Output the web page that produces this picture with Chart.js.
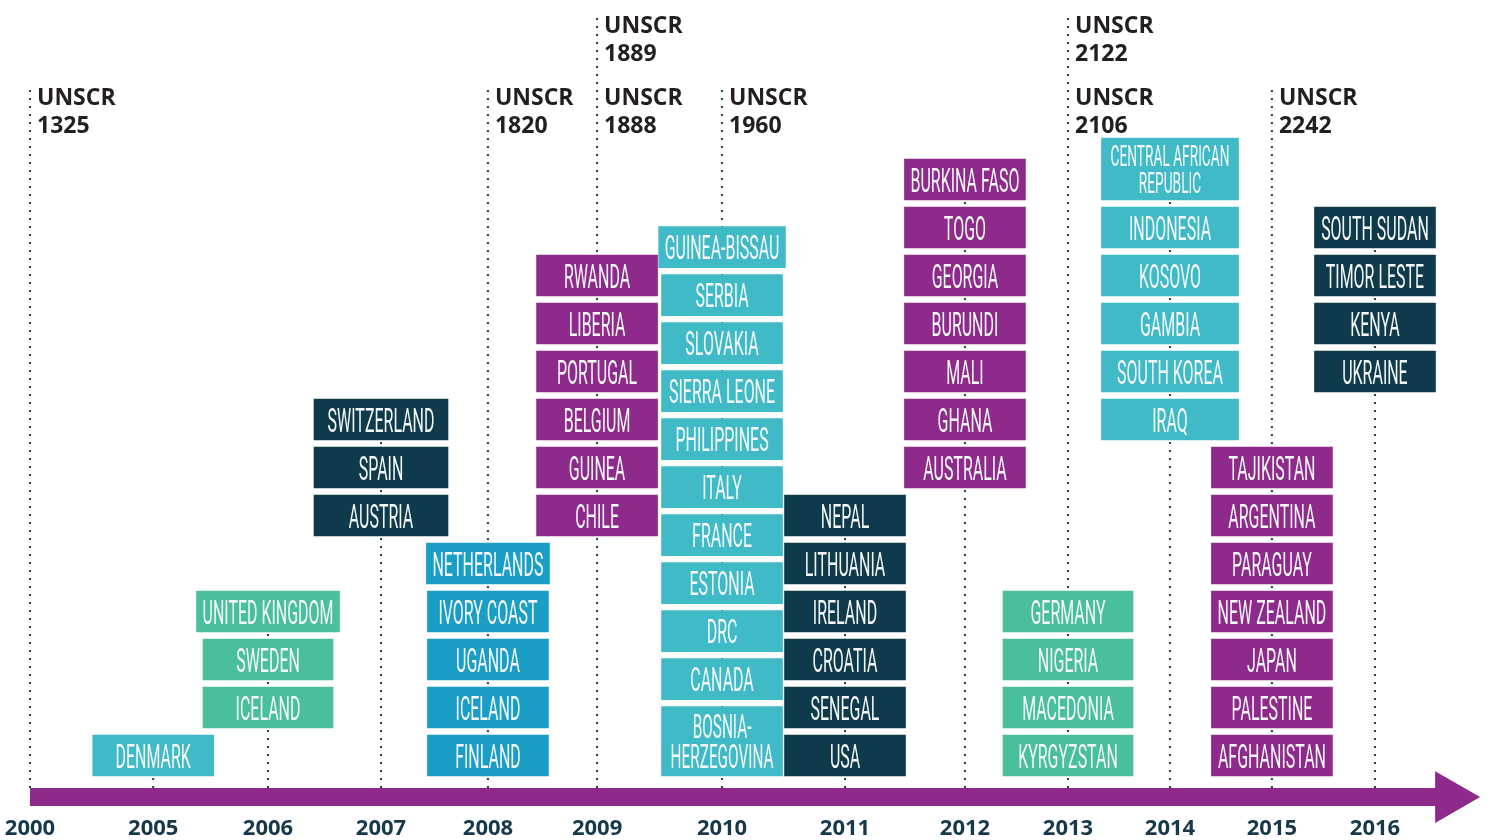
<!DOCTYPE html>
<html>
<head>
<meta charset="utf-8">
<script src="https://cdn.jsdelivr.net/npm/chart.js@4.4.1/dist/chart.umd.min.js"></script>
<style>
  html, body { margin: 0; background: #fff; }
  #wrap { width: 1491px; height: 840px; }
</style>
</head>
<body>
<div id="wrap"><canvas id="c"></canvas></div>
<script>
// ---- data ----
const years = ['2000', '2005', '2006', '2007', '2008', '2009', '2010', '2011', '2012', '2013', '2014', '2015', '2016'];

// countries joining per year, listed top -> bottom as they appear
const members = [
  [],
  ['DENMARK'],
  ['UNITED KINGDOM', 'SWEDEN', 'ICELAND'],
  ['SWITZERLAND', 'SPAIN', 'AUSTRIA'],
  ['NETHERLANDS', 'IVORY COAST', 'UGANDA', 'ICELAND', 'FINLAND'],
  ['RWANDA', 'LIBERIA', 'PORTUGAL', 'BELGIUM', 'GUINEA', 'CHILE'],
  ['GUINEA-BISSAU', 'SERBIA', 'SLOVAKIA', 'SIERRA LEONE', 'PHILIPPINES', 'ITALY', 'FRANCE', 'ESTONIA', 'DRC', 'CANADA', 'BOSNIA-\nHERZEGOVINA'],
  ['NEPAL', 'LITHUANIA', 'IRELAND', 'CROATIA', 'SENEGAL', 'USA'],
  ['BURKINA FASO', 'TOGO', 'GEORGIA', 'BURUNDI', 'MALI', 'GHANA', 'AUSTRALIA'],
  ['GERMANY', 'NIGERIA', 'MACEDONIA', 'KYRGYZSTAN'],
  ['CENTRAL AFRICAN\nREPUBLIC', 'INDONESIA', 'KOSOVO', 'GAMBIA', 'SOUTH KOREA', 'IRAQ'],
  ['TAJIKISTAN', 'ARGENTINA', 'PARAGUAY', 'NEW ZEALAND', 'JAPAN', 'PALESTINE', 'AFGHANISTAN'],
  ['SOUTH SUDAN', 'TIMOR LESTE', 'KENYA', 'UKRAINE']
];
// row (counted from the axis) where each year's stack starts
const startRow = [0, 0, 1, 5, 0, 5, 0, 0, 6, 0, 7, 0, 8];

const resolutions    = ['1325', '1820', '1888', '1889', '1960', '2106', '2122', '2242'];
const resolutionYear = ['2000', '2008', '2009', '2009', '2010', '2013', '2013', '2015'];
const resolutionTier = [0, 0, 0, 1, 0, 0, 1, 0];

// ---- layout / style ----
const YEAR_AT = [0, 1.1, 2.125, 3.134, 4.089, 5.063, 6.179, 7.277, 8.348, 9.268, 10.179, 11.089, 12.009];
const C = { cyan: '#40BAC6', green: '#49BF9B', navy: '#0F3A4B', blue: '#1B9EC6', purple: '#8D2A8B' };
const COL_COLOR = [C.cyan, C.cyan, C.green, C.navy, C.blue, C.purple, C.cyan, C.navy, C.purple, C.green, C.cyan, C.purple, C.navy];
const COL_MIN_W = [121, 121, 130, 134, 121, 121, 121, 121, 121, 130, 137, 121, 121];
const ROW_PX = 48, GAP_PX = 7, CAP = 24, FONT_PX = 34;
const BOX_FAMILY = 'Roboto';
const LABEL_ROW = 14.12, AXIS_ROW = -0.25, ARROW_ROW = -0.44;

const mctx = document.createElement('canvas').getContext('2d');
mctx.font = `400 ${FONT_PX}px ${BOX_FAMILY}`;
const SX = 111 / mctx.measureText('NETHERLANDS').width;
const textW = s => Math.max(...s.split('\n').map(l => mctx.measureText(l).width)) * SX;

const boxSets = [];
const colTop = [];
members.forEach((list, ci) => {
  let cur = startRow[ci];
  list.slice().reverse().forEach(name => {
    const n = name.split('\n').length;
    const tw = textW(name);
    let w, fs;
    if (n > 1) { w = COL_MIN_W[ci]; fs = Math.min(1, (w - 18) / tw); }
    else { w = Math.max(COL_MIN_W[ci], tw + 12); fs = 1; }
    const hpx = (17 + CAP * (1 + 1.3 * (n - 1))) * fs;
    const lo = cur, hi = cur + hpx / ROW_PX;
    cur = hi + GAP_PX / ROW_PX;
    boxSets.push({
      type: 'bar', label: name, fontScale: fs,
      data: [{ x: YEAR_AT[ci], y: [lo, hi] }],
      backgroundColor: COL_COLOR[ci], barThickness: w, grouped: false, order: 2
    });
  });
  colTop[ci] = cur - GAP_PX / ROW_PX;
});

const lineSets = years.map((yr, ci) => {
  const tiers = resolutionTier.filter((t, i) => resolutionYear[i] === yr);
  const top = tiers.length ? LABEL_ROW + 1.5 * Math.max(...tiers) + 0.2 : colTop[ci];
  return {
    type: 'line', data: [{ x: YEAR_AT[ci], y: AXIS_ROW }, { x: YEAR_AT[ci], y: top }],
    borderColor: '#1E4051', borderWidth: 2, borderDash: [2, 6], pointRadius: 0, order: 3
  };
});

const arrow = {
  type: 'line', data: [{ x: 0, y: ARROW_ROW }, { x: 12.68, y: ARROW_ROW }],
  borderColor: C.purple, borderWidth: 18, borderCapStyle: 'butt',
  pointRadius: [0, 30], pointStyle: 'triangle', pointRotation: 90,
  pointBackgroundColor: C.purple, pointBorderWidth: 0, order: 1, clip: false
};

const labelPlugin = {
  id: 'labels',
  afterDatasetsDraw(chart) {
    const { ctx, scales: { x, y } } = chart;
    ctx.save();
    chart.data.datasets.forEach((ds, i) => {
      if (ds.type !== 'bar') return;
      const el = chart.getDatasetMeta(i).data[0];
      const p = el.getProps(['x', 'y', 'base'], true);
      const lines = ds.label.split('\n');
      const cap = CAP * ds.fontScale, pitch = cap * 1.3;
      const mid = (p.y + p.base) / 2;
      const b0 = mid - (lines.length - 1) * pitch / 2 + cap / 2;
      ctx.font = `400 ${FONT_PX * ds.fontScale}px ${BOX_FAMILY}`;
      ctx.fillStyle = '#F4F8F8';
      ctx.textAlign = 'center';
      ctx.textBaseline = 'alphabetic';
      lines.forEach((ln, k) => {
        ctx.save();
        ctx.translate(p.x, b0 + k * pitch);
        ctx.scale(SX, 1);
        ctx.fillText(ln, 0, 0);
        ctx.restore();
      });
    });
    ctx.font = 'bold 23px "Open Sans"';
    ctx.fillStyle = '#231F20';
    ctx.textAlign = 'left';
    ctx.textBaseline = 'middle';
    resolutions.forEach((r, i) => {
      const ci = years.indexOf(resolutionYear[i]);
      const px = x.getPixelForValue(YEAR_AT[ci]) + 7;
      const py = y.getPixelForValue(LABEL_ROW + 1.5 * resolutionTier[i]);
      ctx.fillText('UNSCR', px, py);
      ctx.fillText(r, px, py + 28);
    });
    ctx.restore();
  }
};

new Chart(document.getElementById('c'), {
  type: 'bar',
  data: { datasets: [...lineSets, arrow, ...boxSets] },
  options: {
    responsive: true, maintainAspectRatio: false, animation: false,
    layout: { padding: 0, autoPadding: false },
    plugins: { legend: { display: false }, tooltip: { enabled: false } },
    scales: {
      x: {
        type: 'linear', min: -0.268, max: 13.045, offset: false, bounds: 'data',
        afterBuildTicks: a => { a.ticks = YEAR_AT.map(v => ({ value: v })); },
        afterFit: a => { a.paddingLeft = 0; a.paddingRight = 0; },
        ticks: {
          autoSkip: false, maxRotation: 0, padding: 0, color: '#15394A',
          font: { family: '"Open Sans"', weight: 'bold', size: 22, lineHeight: 1 },
          callback: (v, i) => years[i]
        },
        grid: { display: false, drawTicks: false }, border: { display: false }
      },
      y: { type: 'linear', display: false, min: -0.875, max: 16.167 }
    }
  },
  plugins: [labelPlugin]
});
</script>
</body>
</html>
